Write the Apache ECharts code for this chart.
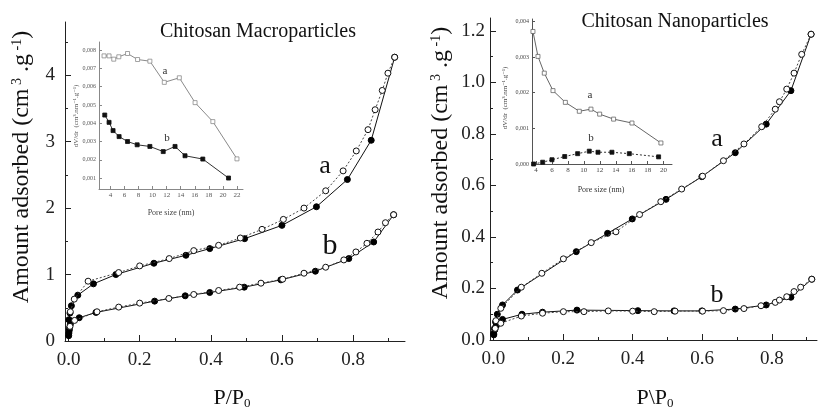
<!DOCTYPE html>
<html>
<head>
<meta charset="utf-8">
<script src="https://cdn.jsdelivr.net/npm/echarts@6/dist/echarts.min.js"></script>
<style>
  html, body { margin: 0; padding: 0; background: #fff; }
  #chart { width: 818px; height: 412px; }
</style>
</head>
<body>
<div id="chart"></div>
<script>
// ---- Nitrogen isotherms, chitosan macroparticles (left panel) ----
// [P/P0, amount adsorbed]
const macroA_ads = [[0.001,0.32],[0.004,0.42],[0.008,0.53],[0.026,0.69],[0.07,0.86],[0.133,1.0],[0.24,1.17],[0.33,1.29],[0.397,1.39],[0.495,1.54],[0.6,1.74],[0.697,2.02],[0.784,2.43],[0.851,3.02],[0.917,4.27]];
const macroA_des = [[0.005,0.44],[0.016,0.63],[0.055,0.9],[0.141,1.03],[0.2,1.13],[0.283,1.24],[0.352,1.36],[0.422,1.44],[0.483,1.55],[0.544,1.68],[0.604,1.83],[0.662,2.0],[0.723,2.26],[0.772,2.56],[0.809,2.86],[0.842,3.18],[0.862,3.48],[0.882,3.77],[0.898,4.03],[0.917,4.27]];
const macroB_ads = [[0.0005,0.08],[0.001,0.12],[0.002,0.16],[0.003,0.2],[0.005,0.25],[0.008,0.3],[0.03,0.35],[0.077,0.43],[0.242,0.6],[0.328,0.68],[0.397,0.73],[0.494,0.81],[0.597,0.92],[0.694,1.05],[0.788,1.24],[0.858,1.49],[0.914,1.9]];
const macroB_des = [[0.004,0.22],[0.017,0.31],[0.08,0.44],[0.141,0.51],[0.2,0.57],[0.282,0.64],[0.352,0.7],[0.422,0.76],[0.481,0.81],[0.541,0.87],[0.602,0.93],[0.662,1.02],[0.723,1.11],[0.774,1.22],[0.808,1.34],[0.839,1.47],[0.87,1.64],[0.891,1.78],[0.914,1.9]];

// ---- Nitrogen isotherms, chitosan nanoparticles (right panel) ----
const nanoA_ads = [[0.0005,0.025],[0.003,0.045],[0.006,0.07],[0.011,0.1],[0.026,0.136],[0.069,0.194],[0.238,0.343],[0.328,0.414],[0.399,0.47],[0.496,0.546],[0.599,0.634],[0.695,0.727],[0.784,0.838],[0.855,0.968],[0.913,1.187]];
const nanoA_des = [[0.007,0.075],[0.021,0.123],[0.08,0.205],[0.139,0.259],[0.201,0.315],[0.281,0.378],[0.352,0.42],[0.42,0.487],[0.481,0.537],[0.541,0.586],[0.601,0.636],[0.661,0.696],[0.72,0.761],[0.771,0.828],[0.81,0.896],[0.822,0.925],[0.843,0.974],[0.864,1.036],[0.886,1.109],[0.913,1.187]];
const nanoB_ads = [[0.001,0.02],[0.004,0.04],[0.008,0.055],[0.026,0.08],[0.082,0.1],[0.141,0.108],[0.24,0.116],[0.415,0.114],[0.519,0.113],[0.599,0.113],[0.695,0.12],[0.784,0.136],[0.855,0.166],[0.915,0.236]];
const nanoB_des = [[0.005,0.045],[0.021,0.065],[0.08,0.093],[0.141,0.104],[0.201,0.11],[0.26,0.11],[0.33,0.113],[0.4,0.112],[0.462,0.11],[0.522,0.112],[0.601,0.112],[0.661,0.114],[0.72,0.122],[0.769,0.133],[0.81,0.146],[0.822,0.155],[0.843,0.168],[0.864,0.188],[0.883,0.205],[0.915,0.236]];

// ---- Pore size distributions (insets): [pore size nm, dV/dr] ----
const macroPoreA = [[3.09,0.00769],[3.8,0.00769],[4.47,0.00751],[5.19,0.00764],[6.43,0.00782],[7.86,0.00749],[9.61,0.0074],[11.66,0.00624],[13.8,0.00649],[16.04,0.00513],[18.57,0.00409],[22.0,0.00205]];
const macroPoreB = [[3.19,0.00445],[3.8,0.00405],[4.37,0.0036],[5.23,0.00327],[6.43,0.003],[7.8,0.00282],[9.61,0.00273],[11.51,0.00245],[13.19,0.00273],[14.61,0.00222],[17.14,0.00204],[20.8,0.001]];
const nanoPoreA = [[3.62,0.00372],[4.25,0.00302],[5.04,0.00255],[6.13,0.00206],[7.68,0.00173],[9.43,0.00148],[10.89,0.00154],[11.98,0.0014],[13.73,0.00126],[16.03,0.00115],[19.66,0.00059]];
const nanoPoreB = [[3.7,0.0],[4.84,0.00005],[6.0,0.00012],[7.6,0.00021],[9.22,0.00029],[10.68,0.00036],[11.77,0.00033],[13.52,0.00033],[15.7,0.00029],[19.37,0.0002]];

// ---- Tick positions ----
const pTicks = [0, 0.2, 0.4, 0.6, 0.8];
const pMinor = [0.1, 0.3, 0.5, 0.7, 0.9];
const macroYTicks = [0, 1, 2, 3, 4];
const macroYMinor = [0.5, 1.5, 2.5, 3.5, 4.5];
const nanoYTicks = [0, 0.2, 0.4, 0.6, 0.8, 1.0, 1.2];
const nanoYMinor = [0.1, 0.3, 0.5, 0.7, 0.9, 1.1];
const macroPoreXTicks = [4, 6, 8, 10, 12, 14, 16, 18, 20, 22];
const macroPoreYTicks = [0.001, 0.002, 0.003, 0.004, 0.005, 0.006, 0.007, 0.008];
const nanoPoreXTicks = [4, 6, 8, 10, 12, 14, 16, 18, 20];
const nanoPoreYTicks = [0.000, 0.001, 0.002, 0.003, 0.004];

const SERIF = "'Liberation Serif', 'DejaVu Serif', serif";

function axis(o) {
  return {
    type: 'value',
    gridIndex: o.grid,
    position: o.pos,
    min: o.min, max: o.max,
    axisLine: { show: !o.minor, onZero: false, lineStyle: { color: o.color, width: o.lw || 1 } },
    axisTick: { show: true, inside: true, length: o.tickLen, customValues: o.ticks, lineStyle: { color: o.color, width: o.lw || 1 } },
    axisLabel: o.minor ? { show: false } : {
      show: true, customValues: o.ticks, formatter: o.fmt,
      fontFamily: SERIF, fontSize: o.fs, color: o.labelColor || o.color, margin: o.margin
    },
    splitLine: { show: false }
  };
}

const fmtP = v => v.toFixed(1);
const fmtInt = v => String(Math.round(v));
const fmtComma = v => v.toFixed(3).replace('.', ',');

const grids = [
  { left: 65, top: 22, width: 340, height: 319 },
  { left: 490, top: 18, width: 327, height: 322 },
  { left: 99, top: 42, width: 144, height: 147 },
  { left: 532, top: 19, width: 140, height: 145 }
];

const xAxes = [
  axis({ grid: 0, pos: 'bottom', min: -0.01, max: 0.946, ticks: pTicks, fmt: fmtP, fs: 19, color: '#222', tickLen: 6, margin: 10 }),
  axis({ grid: 0, pos: 'bottom', min: -0.01, max: 0.946, ticks: pMinor, minor: true, color: '#222', tickLen: 3 }),
  axis({ grid: 1, pos: 'bottom', min: -0.01, max: 0.93, ticks: pTicks, fmt: fmtP, fs: 19, color: '#222', tickLen: 6, margin: 10 }),
  axis({ grid: 1, pos: 'bottom', min: -0.01, max: 0.93, ticks: pMinor, minor: true, color: '#222', tickLen: 3 }),
  axis({ grid: 2, pos: 'bottom', min: 2.37, max: 22.86, ticks: macroPoreXTicks, fmt: fmtInt, fs: 7, color: '#888', labelColor: '#555', tickLen: 3, margin: 3 }),
  axis({ grid: 3, pos: 'bottom', min: 3.5, max: 21.05, ticks: nanoPoreXTicks, fmt: fmtInt, fs: 7, color: '#555', labelColor: '#444', tickLen: 3, margin: 3 })
];

const yAxes = [
  axis({ grid: 0, pos: 'left', min: 0, max: 4.8, ticks: macroYTicks, fmt: fmtInt, fs: 19, color: '#222', tickLen: 6, margin: 10 }),
  axis({ grid: 0, pos: 'left', min: 0, max: 4.8, ticks: macroYMinor, minor: true, color: '#222', tickLen: 3 }),
  axis({ grid: 1, pos: 'left', min: 0, max: 1.25, ticks: nanoYTicks, fmt: fmtP, fs: 19, color: '#222', tickLen: 6, margin: 5 }),
  axis({ grid: 1, pos: 'left', min: 0, max: 1.25, ticks: nanoYMinor, minor: true, color: '#222', tickLen: 3 }),
  axis({ grid: 2, pos: 'left', min: 0.0004, max: 0.00845, ticks: macroPoreYTicks, fmt: fmtComma, fs: 6, color: '#888', labelColor: '#555', tickLen: 3, margin: 3 }),
  axis({ grid: 3, pos: 'left', min: 0, max: 0.00407, ticks: nanoPoreYTicks, fmt: fmtComma, fs: 6, color: '#555', labelColor: '#444', tickLen: 3, margin: 3 })
];

function iso(data, xi, yi, filled, dotted) {
  return {
    type: 'line', data: data, xAxisIndex: xi, yAxisIndex: yi,
    symbol: 'circle', symbolSize: 6, showSymbol: true,
    lineStyle: { color: dotted ? '#444' : '#111', width: 1, type: dotted ? [2, 2] : 'solid' },
    itemStyle: filled ? { color: '#000', borderColor: '#000', borderWidth: 1 }
                      : { color: '#fff', borderColor: '#111', borderWidth: 1 },
    emphasis: { disabled: true }, z: filled ? 2 : 3
  };
}

function pore(data, xi, yi, filled, lineColor, dotted) {
  return {
    type: 'line', data: data, xAxisIndex: xi, yAxisIndex: yi,
    symbol: 'rect', symbolSize: 4, showSymbol: true,
    lineStyle: { color: lineColor, width: 1, type: dotted ? [2, 2] : 'solid' },
    itemStyle: filled ? { color: '#111', borderColor: '#111', borderWidth: 0.8 }
                      : { color: '#fff', borderColor: lineColor, borderWidth: 0.8 },
    emphasis: { disabled: true }
  };
}

const series = [
  iso(macroA_ads, 0, 0, true, false),
  iso(macroA_des, 0, 0, false, true),
  iso(macroB_ads, 0, 0, true, false),
  iso(macroB_des, 0, 0, false, true),
  iso(nanoA_ads, 2, 2, true, false),
  iso(nanoA_des, 2, 2, false, true),
  iso(nanoB_ads, 2, 2, true, false),
  iso(nanoB_des, 2, 2, false, true),
  pore(macroPoreA, 4, 4, false, '#8a8a8a', false),
  pore(macroPoreB, 4, 4, true, '#333', false),
  pore(nanoPoreA, 5, 5, false, '#666', false),
  pore(nanoPoreB, 5, 5, true, '#333', true)
];

function txt(text, x, y, fs, opts) {
  opts = opts || {};
  return {
    type: 'text', x: x, y: y, rotation: opts.rot || 0, z: 100,
    style: {
      text: text, fontFamily: SERIF, fontSize: fs, fill: opts.color || '#111',
      align: 'center', verticalAlign: 'middle', rich: opts.rich
    }
  };
}

const yTitleRich = {
  t: { fontFamily: SERIF, fontSize: 24, fill: '#111' },
  s: { fontFamily: SERIF, fontSize: 14, fill: '#111', verticalAlign: 'top' }
};
const pRich = {
  t: { fontFamily: SERIF, fontSize: 22, fill: '#111' },
  s: { fontFamily: SERIF, fontSize: 13, fill: '#111', verticalAlign: 'bottom', padding: [12, 0, 0, 0] }
};
const yTitle = '{t|Amount adsorbed (cm}{s| 3}{t| .g}{s| -1}{t|)}';

const graphics = [
  txt('Chitosan Macroparticles', 258, 32, 20),
  txt('Chitosan Nanoparticles', 675, 22, 20),
  txt(yTitle, 22, 167, 24, { rot: Math.PI / 2, rich: yTitleRich }),
  txt(yTitle, 441, 163, 24, { rot: Math.PI / 2, rich: yTitleRich }),
  txt('{t|P/P}{s|0}', 232, 398, 22, { rich: pRich }),
  txt('{t|P\\P}{s|0}', 655, 398, 22, { rich: pRich }),
  txt('a', 325, 166, 26),
  txt('b', 330, 246, 30),
  txt('a', 717, 139, 26),
  txt('b', 717, 295, 26),
  txt('a', 165, 71, 11, { color: '#333' }),
  txt('b', 167, 138, 11, { color: '#333' }),
  txt('a', 590, 95, 11, { color: '#333' }),
  txt('b', 591, 138, 11, { color: '#333' }),
  txt('Pore size (nm)', 171, 213, 8, { color: '#444' }),
  txt('Pore size (nm)', 601, 190, 8, { color: '#333' }),
  txt('dV/dr  (cm³.nm⁻¹.g⁻¹)', 76, 116, 7, { rot: Math.PI / 2, color: '#555' }),
  txt('dV/dr  (cm³.nm⁻¹.g⁻¹)', 505, 98, 7, { rot: Math.PI / 2, color: '#444' })
];

const chart = echarts.init(document.getElementById('chart'), null, { renderer: 'canvas' });
chart.setOption({
  animation: false,
  backgroundColor: '#fff',
  grid: grids,
  xAxis: xAxes,
  yAxis: yAxes,
  series: series,
  graphic: graphics
});
</script>
</body>
</html>
